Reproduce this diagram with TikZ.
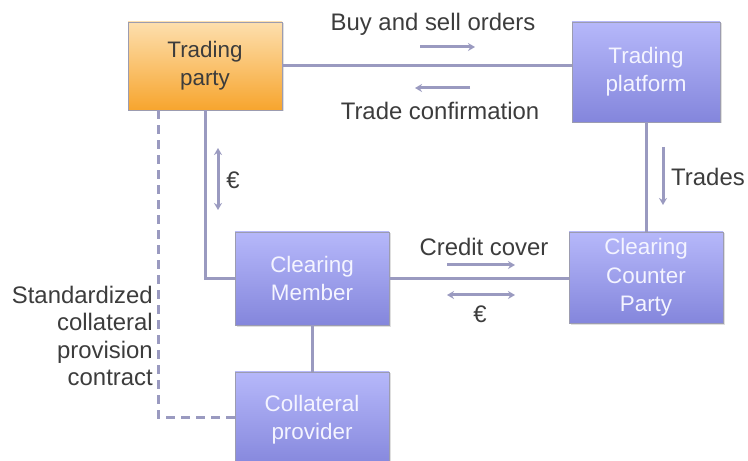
\documentclass[tikz,border=0pt]{standalone}
\usepackage{fontspec}
\setmainfont{Liberation Sans}
\usetikzlibrary{shadows,arrows.meta}

\definecolor{linecol}{HTML}{9A9AC0}
\definecolor{boxline}{HTML}{9C9CB0}
\definecolor{orangetop}{HTML}{FDDFAE}
\definecolor{orangebot}{HTML}{F7A52E}
\definecolor{bluetop}{HTML}{B6B8FA}
\definecolor{bluebot}{HTML}{8486DC}
\definecolor{textdark}{HTML}{3C3C3C}
\definecolor{textlight}{HTML}{F4F4FF}

\tikzset{
  box/.style={draw=boxline, line width=0.8bp, minimum width=154bp, minimum height=90bp,
    align=center, font=\fontsize{22.5}{28.5}\selectfont,
    drop shadow={shadow xshift=1.5bp, shadow yshift=-1.5bp, opacity=0.25}},
  orangebox/.style={box, top color=orangetop, bottom color=orangebot, text=textdark},
  bluebox/.style={box, top color=bluetop, bottom color=bluebot, text=textlight},
  link/.style={draw=linecol, line width=3bp},
  flow/.style={link, -{Stealth[length=7bp,width=8bp]}},
  twoway/.style={link, {Stealth[length=7bp,width=8bp]}-{Stealth[length=7bp,width=8bp]}},
  label/.style={text=textdark, font=\fontsize{24}{27.7}\selectfont, inner sep=0pt},
}

\begin{document}
\begin{tikzpicture}[x=1bp, y=-1bp]
\useasboundingbox (0,0) rectangle (748,461);

% boxes
\node [orangebox, minimum height=88bp] (party) at (205,66) {Trading\\party};
\node [bluebox, minimum width=148bp, minimum height=100bp] (platform) at (646,72) {Trading\\platform};
\node [bluebox, minimum height=91bp] (ccp) at (646,277.5) {Clearing\\Counter\\Party};
\node [bluebox, minimum height=93bp] (member) at (312,278.5) {Clearing\\Member};
\node [bluebox, minimum height=96bp] (collateral) at (312,420) {Collateral\\provider};

% connections
\draw [link] (party.east) -- (party.east -| platform.west);
\draw [link] (platform.south) -- (ccp.north);
\draw [link] (party.south) |- (member.west);
\draw [link] (member.east) -- (member.east -| ccp.west);
\draw [link] (member.south) -- (collateral.north);
\draw [link, dash pattern=on 9bp off 6bp] ([xshift=-47bp]party.south) |- ([yshift=3bp]collateral.west);

% flows
\coordinate (buyA) at (420,47);
\coordinate (buyB) at (475,47);
\draw [flow] (buyA) -- (buyB);
\coordinate (confA) at (470,88);
\coordinate (confB) at (415,88);
\draw [flow] (confA) -- (confB);
\coordinate (payA) at (218,148);
\coordinate (payB) at (218,210);
\draw [twoway] (payA) -- (payB);
\coordinate (tradeA) at (663,147);
\coordinate (tradeB) at (663,205);
\draw [flow] (tradeA) -- (tradeB);
\coordinate (creditA) at (447,265);
\coordinate (creditB) at (515,265);
\draw [flow] (creditA) -- (creditB);
\coordinate (cashA) at (447,295);
\coordinate (cashB) at (515,295);
\draw [twoway] (cashA) -- (cashB);

% labels
\node [label] (buytxt) at (433,24) {Buy and sell orders};
\node [label] (conftxt) at (440,111) {Trade confirmation};
\node [label] (paytxt) at (233,180) {€};
\node [label] (tradetxt) at (708,177) {Trades};
\node [label] (credittxt) at (484,247) {Credit cover};
\node [label] (cashtxt) at (480,314) {€};
\node [label, anchor=east, align=right] (contracttxt) at (153,336) {Standardized\\collateral\\provision\\contract};
\end{tikzpicture}
\end{document}
